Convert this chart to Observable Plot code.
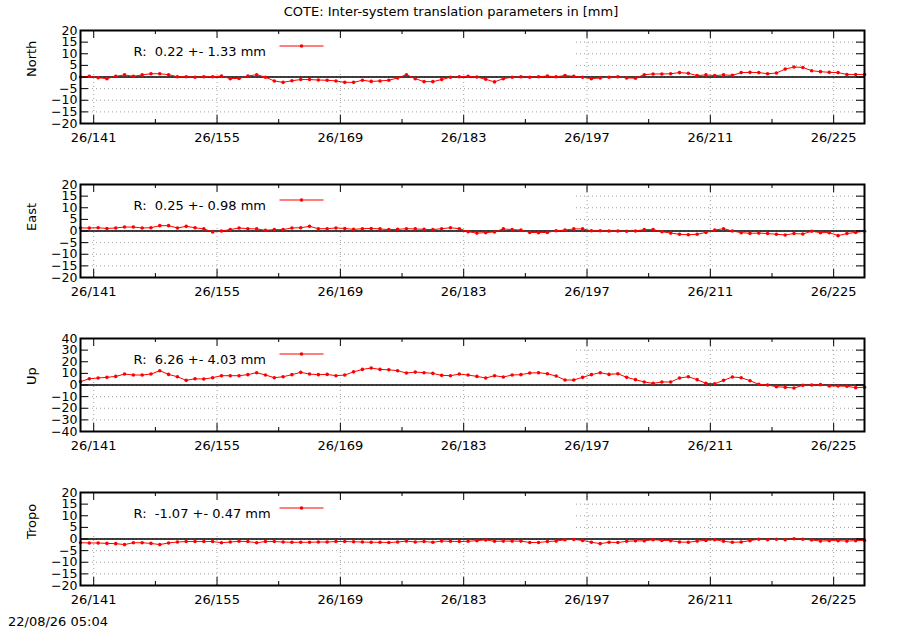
<!DOCTYPE html>
<html>
<head>
<meta charset="utf-8">
<script src="https://cdn.jsdelivr.net/npm/d3@7"></script>
<script src="https://cdn.jsdelivr.net/npm/@observablehq/plot@0.6"></script>
<style>
  body { margin: 0; background: white; font-family: "DejaVu Sans", sans-serif; }
  #wrap { position: relative; width: 900px; height: 630px; }
  #title { position: absolute; left: 0; top: 4px; width: 902px; text-align: center; font-size: 13px; }
  #stamp { position: absolute; left: 8px; top: 614px; font-size: 13px; }
  #charts svg { display: block; }
</style>
</head>
<body>
<div id="wrap">
  <div id="charts"></div>
  <div id="title">COTE: Inter-system translation parameters in [mm]</div>
  <div id="stamp">22/08/26 05:04</div>
</div>
<script>
// day of year 2026 (noon of each day)
const days = [139.5, 140.5, 141.5, 142.5, 143.5, 144.5, 145.5, 146.5, 147.5, 148.5,
  149.5, 150.5, 151.5, 152.5, 153.5, 154.5, 155.5, 156.5, 157.5, 158.5,
  159.5, 160.5, 161.5, 162.5, 163.5, 164.5, 165.5, 166.5, 167.5, 168.5,
  169.5, 170.5, 171.5, 172.5, 173.5, 174.5, 175.5, 176.5, 177.5, 178.5,
  179.5, 180.5, 181.5, 182.5, 183.5, 184.5, 185.5, 186.5, 187.5, 188.5,
  189.5, 190.5, 191.5, 192.5, 193.5, 194.5, 195.5, 196.5, 197.5, 198.5,
  199.5, 200.5, 201.5, 202.5, 203.5, 204.5, 205.5, 206.5, 207.5, 208.5,
  209.5, 210.5, 211.5, 212.5, 213.5, 214.5, 215.5, 216.5, 217.5, 218.5,
  219.5, 220.5, 221.5, 222.5, 223.5, 224.5, 225.5, 226.5, 227.5, 228.5];

const north = [0, 0.3, -0.3, -0.7, 0.3, 0.9, 0.3, 0.9, 1.4, 1.4, 1.0, 0.1, 0.1, -0.1, 0.1, 0.1,
  0.4, -0.7, -0.6, 0.4, 1.0, -0.1, -1.7, -2.3, -1.6, -1.1, -1.1, -1.3, -1.4, -1.7, -2.3, -2.3,
  -1.4, -1.9, -1.7, -1.4, -0.4, 1.0, -0.7, -2.0, -2.0, -1.1, -0.1, 0.1, 0.3, 0, -1.0, -2.1,
  -0.7, -0.1, 0.1, -0.1, 0.1, 0.4, 0.1, 0.6, 0.3, -0.1, -0.7, -0.4, -0.1, 0.1, -0.4, -0.5,
  1.0, 1.3, 1.3, 1.4, 1.9, 1.6, 0.6, 0.9, 0.6, 0.9, 0.7, 1.9, 2.0, 1.9, 1.4, 1.7,
  3.4, 4.3, 4.1, 2.7, 2.3, 2.0, 1.9, 1.1, 1.1, 1.1];

const east = [1.3, 1.3, 1.4, 1.1, 1.3, 1.7, 1.7, 1.3, 1.4, 2.3, 2.3, 1.3, 2.0, 1.4, 0.9, -0.4,
  0, 0.6, 1.3, 1.0, 0.9, 0.3, 0.6, 0.6, 1.3, 1.4, 2.0, 1.0, 1.0, 1.3, 1.1, 0.7,
  1.0, 1.1, 0.9, 0.6, 0.7, 1.0, 0.9, 0.7, 0.6, 1.0, 1.4, 1.0, -0.3, -0.9, -0.7, -0.4,
  0.9, 0.6, 0.4, -0.6, -0.7, -0.6, 0.1, 0.4, 0.9, 0.9, 0.1, 0.1, 0, 0, -0.1, 0,
  0.6, 0.6, -0.3, -0.9, -1.4, -1.6, -1.4, -0.6, 0.4, 1.0, 0, -0.7, -1.0, -0.9, -1.1, -1.4,
  -1.7, -1.1, -1.3, -0.1, -0.7, -0.7, -2.0, -1.1, -0.6, -0.1];

const up = [2.9, 5.4, 6.0, 6.6, 7.4, 9.4, 8.6, 8.6, 9.4, 12.3, 9.1, 7.1, 4.0, 5.4, 5.1, 6.3,
  8.0, 8.0, 8.0, 8.9, 10.6, 8.6, 6.3, 7.1, 8.9, 10.9, 9.4, 8.9, 9.1, 8.0, 8.6, 11.3,
  13.4, 14.6, 13.4, 13.1, 12.3, 10.3, 11.1, 10.6, 10.0, 8.3, 8.0, 9.4, 8.6, 7.4, 6.0, 8.0,
  6.9, 8.6, 8.9, 10.3, 10.6, 9.7, 7.7, 4.3, 4.3, 6.6, 8.9, 10.6, 9.1, 9.7, 6.6, 4.6,
  2.6, 1.4, 2.6, 2.6, 6.0, 7.1, 4.6, 1.4, 1.1, 4.0, 6.9, 6.3, 3.7, 0.6, 0, -1.4,
  -2.0, -2.6, -0.3, 0, 0.3, -0.9, -0.9, -1.1, -2.3, -2.0];

const tropo = [-1.6, -1.7, -1.7, -1.9, -2.0, -2.4, -1.6, -1.6, -1.9, -2.4, -1.7, -1.3, -1.1, -1.1, -1.1, -1.1,
  -1.6, -1.3, -1.0, -1.1, -1.6, -1.1, -1.1, -1.3, -1.4, -1.4, -1.4, -1.3, -1.3, -1.1, -1.1, -1.2,
  -1.3, -1.4, -1.4, -1.5, -1.3, -0.9, -1.3, -1.1, -1.4, -0.9, -1.0, -1.1, -1.0, -0.7, -0.4, -1.0,
  -0.9, -0.9, -0.9, -1.5, -1.5, -1.1, -0.9, -0.3, -0.2, -0.6, -1.4, -2.0, -1.4, -1.5, -1.0, -0.8,
  -0.8, -0.3, -0.6, -0.7, -1.3, -1.4, -0.9, -0.6, -0.3, -1.0, -1.4, -1.3, -0.7, -0.1, -0.3, -0.1,
  -0.3, 0.1, -0.1, -0.4, -0.9, -0.7, -0.7, -0.9, -0.7, -0.6];

const xMajor = [141, 155, 169, 183, 197, 211, 225];
const xMinor = [148, 162, 176, 190, 204, 218];
const ticks20 = [-20, -15, -10, -5, 0, 5, 10, 15, 20];
const ticks40 = [-40, -30, -20, -10, 0, 10, 20, 30, 40];

const panels = [
  {name: "North", values: north, domain: [-20, 20], ticks: ticks20, key: "R:\u00a0 0.22 +- 1.33 mm"},
  {name: "East", values: east, domain: [-20, 20], ticks: ticks20, key: "R:\u00a0 0.25 +- 0.98 mm"},
  {name: "Up", values: up, domain: [-40, 40], ticks: ticks40, key: "R:\u00a0 6.26 +- 4.03 mm"},
  {name: "Tropo", values: tropo, domain: [-20, 20], ticks: ticks20, key: "R:\u00a0 -1.07 +- 0.47 mm"}
];

const W = 900, H = 154, mT = 30, mB = 31, mL = 80, mR = 36;
const fw = W - mL - mR, fh = H - mT - mB;
const font = "'DejaVu Sans', sans-serif";

function panel(p) {
  const data = days.map((d, i) => ({day: d, v: p.values[i]}));
  return Plot.plot({
    width: W, height: H,
    marginTop: mT, marginBottom: mB, marginLeft: mL, marginRight: mR,
    style: {fontFamily: font, fontSize: "13px", background: "white", color: "black"},
    x: {domain: [days[0], days[days.length - 1]]},
    y: {domain: p.domain},
    marks: [
      Plot.gridX(xMajor, {stroke: "#a0a0a0", strokeOpacity: 1, strokeDasharray: "1,3"}),
      Plot.gridY(p.ticks, {stroke: "#a0a0a0", strokeOpacity: 1, strokeDasharray: "1,3"}),
      // opaque key box
      Plot.frame({fill: "white", stroke: null, insetRight: 291, insetBottom: fh - 40}),
      Plot.ruleY([0], {stroke: "black", strokeWidth: 1.5}),
      Plot.line(data, {x: "day", y: "v", stroke: "red", strokeWidth: 1}),
      Plot.dot(data, {x: "day", y: "v", r: 1.8, fill: "red"}),
      // inward tick marks
      Plot.ruleX(xMajor, {stroke: "black", insetBottom: fh - 8}),
      Plot.ruleX(xMajor, {stroke: "black", insetTop: fh - 8}),
      Plot.ruleX(xMinor, {stroke: "black", insetBottom: fh - 4}),
      Plot.ruleX(xMinor, {stroke: "black", insetTop: fh - 4}),
      Plot.ruleY(p.ticks, {stroke: "black", insetRight: fw - 8}),
      Plot.ruleY(p.ticks, {stroke: "black", insetLeft: fw - 8}),
      Plot.frame({stroke: "black", strokeWidth: 2}),
      Plot.axisX(xMajor, {tickSize: 0, tickPadding: 9, label: null, tickFormat: d => "26/" + d}),
      Plot.axisY(p.ticks, {tickSize: 0, tickPadding: 3, label: null, fontSize: 12.5}),
      Plot.text([p.name], {frameAnchor: "left", rotate: -90, dx: -49}),
      // key
      Plot.text([p.key], {frameAnchor: "top-left", dx: 53, dy: 16, textAnchor: "start"}),
      Plot.frame({fill: "red", stroke: null, insetLeft: 199, insetRight: fw - 243, insetTop: 15, insetBottom: fh - 16}),
      Plot.dot([p.key], {frameAnchor: "top-left", dx: 221, dy: 15.5, r: 1.8, fill: "red"})
    ]
  });
}

panels.forEach(p => {
  d3.select('#charts').append(() => panel(p));
});
</script>
</body>
</html>
